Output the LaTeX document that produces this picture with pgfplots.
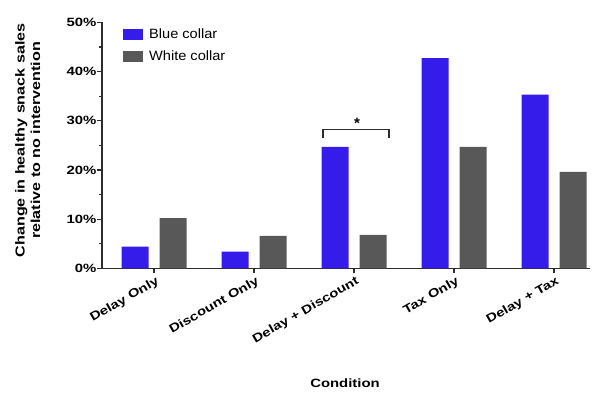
\documentclass[border=0pt]{standalone}
\usepackage{fontspec}
\setmainfont{Liberation Sans}
\newfontfamily\wf[FakeStretch=1.24]{Liberation Sans}
\newfontfamily\lf[FakeStretch=1.08]{Liberation Sans}
\usepackage{pgfplots}
\pgfplotsset{compat=1.18}
\definecolor{bluec}{RGB}{54,28,235}
\definecolor{grayc}{RGB}{88,88,88}
\definecolor{axc}{RGB}{45,45,45}
\begin{document}
\begin{tikzpicture}[x=1pt,y=1pt]
\path[use as bounding box] (0,0) rectangle (595,394);
\begin{axis}[
  at={(102pt,125.7pt)}, anchor=south west,
  width=488pt, height=246pt, scale only axis,
  xmin=-0.52, xmax=4.36, ymin=0, ymax=50,
  axis x line*=bottom, axis y line*=left,
  axis line style={axc, line width=1.3pt},
  xtick={0,1,2,3,4},
  xticklabels={Delay Only, Discount Only, Delay + Discount, Tax Only, Delay + Tax},
  ytick={0,10,20,30,40,50}, minor ytick={5,15,25,35,45},
  yticklabel={\pgfmathprintnumber[assume math mode=true]{\tick}\%},
  tick align=outside, major tick length=5pt, minor tick length=3pt,
  every tick/.style={axc, line width=1.2pt},
  ticklabel style={font=\wf\fontsize{12}{14}\selectfont\bfseries},
  x tick label style={rotate=30, anchor=north east, inner sep=1pt, yshift=-1.5pt, xshift=1pt},
  y tick label style={inner sep=0.5pt},
  ybar, bar width=27pt,
  ylabel={Change in healthy snack sales\\relative to no intervention},
  ylabel style={font=\wf\fontsize{13}{15.5}\selectfont\bfseries, align=center, at={(axis description cs:-0.152,0.52)}, anchor=center, rotate=0},
  xlabel={Condition},
  xlabel style={font=\wf\fontsize{12}{14}\selectfont\bfseries, at={(axis description cs:0.498,-0.466)}, anchor=center},
  legend style={at={(rel axis cs:0.043,0.977)}, anchor=north west, draw=none, fill=none,
    font=\lf\fontsize{13.5}{15}\selectfont, inner sep=0pt, row sep=8pt,
    /tikz/every even column/.append style={column sep=0pt},
    nodes={inner sep=1pt}},
  legend cell align=left,
  legend image code/.code={\fill[#1] (0pt,-5.5pt) rectangle (20pt,5.5pt);},
  legend style={/tikz/every odd column/.append style={column sep=5pt}},
]
\addplot[fill=bluec, draw=none, bar shift=-19pt] coordinates {(0,4.4) (1,3.4) (2,24.7) (3,42.7) (4,35.3)};
\addplot[fill=grayc, draw=none, bar shift=19pt] coordinates {(0,10.2) (1,6.6) (2,6.8) (3,24.7) (4,19.6)};
\legend{Blue collar, White collar}
\draw[axc, line width=1.2pt] (axis cs:1.69,26.4) -- (axis cs:1.69,28.25) -- (axis cs:2.35,28.25) -- (axis cs:2.35,26.4);
\node[anchor=base, font=\fontsize{15}{15}\selectfont\bfseries] at (axis cs:2.03,28.5) {*};
\end{axis}
\end{tikzpicture}
\end{document}
